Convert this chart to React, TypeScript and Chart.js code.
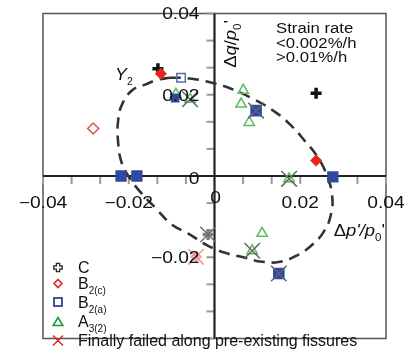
import React, { useEffect, useRef } from 'react';
import { Chart, registerables } from 'chart.js';

Chart.register(...registerables);

// Axis range and tick layout
const AXIS_MIN = -0.04;
const AXIS_MAX = 0.04;
const MINOR_STEP = 0.02 / 3;
const xTickLabels = [-0.04, -0.02, 0, 0.02, 0.04];
const yTickLabels = [0.04, 0.02, 0, -0.02];

// Dashed yield locus Y2 (closed loop, clockwise from the top)
const loopX = [
  -0.0104, -0.0057, -0.0001, 0.0043, 0.0095, 0.0141, 0.0176, 0.0211, 0.0241, 0.0262,
  0.0274, 0.0272, 0.0255, 0.0227, 0.0195, 0.0153, 0.0111, 0.0071, 0.0025, -0.0018,
  -0.0062, -0.0099, -0.0139, -0.0174, -0.0202, -0.0218, -0.0225, -0.0225, -0.0216,
  -0.0192, -0.0162, -0.0132, -0.0104,
];
const loopY = [
  0.0242, 0.0240, 0.0228, 0.0213, 0.0187, 0.0158, 0.0127, 0.0086, 0.0046, 0.0002,
  -0.0046, -0.0093, -0.0137, -0.0170, -0.0194, -0.0211, -0.0211, -0.0201, -0.0189, -0.0170,
  -0.0141, -0.0120, -0.0077, -0.0038, 0.0002, 0.0038, 0.0086, 0.0134, 0.0175,
  0.0211, 0.0225, 0.0237, 0.0242,
];

// Sample C
const cX = [-0.0132, 0.0237, -0.0015];
const cY = [0.0264, 0.0204, -0.0144];

// Sample B2(c)
const b2cX = [-0.0125, -0.0283, 0.0237, -0.0043];
const b2cY = [0.0252, 0.0117, 0.0038, -0.0199];

// Sample B2(a)
const b2aX = [-0.0078, -0.0092, 0.0097, -0.0218, -0.0181, 0.0276, 0.0150];
const b2aY = [0.0242, 0.0192, 0.0161, 0.0, 0.0, -0.0002, -0.0240];

// Sample A3(2)
const a32X = [-0.0090, -0.0057, 0.0067, 0.0062, 0.0081, 0.0174, 0.0111, 0.0088];
const a32Y = [0.0201, 0.0189, 0.0211, 0.0177, 0.0132, -0.0007, -0.0141, -0.0184];

// Specimens that finally failed along pre-existing fissures
const failX = [-0.0057, 0.0097, 0.0174, 0.0150, 0.0088, -0.0015, -0.0043];
const failY = [0.0189, 0.0161, -0.0007, -0.0240, -0.0184, -0.0144, -0.0199];

const strainRateLines = ['Strain rate', '<0.002%/h', '>0.01%/h'];

const FONT = '"Liberation Sans", Arial, Helvetica, sans-serif';

type Run = { t: string; italic?: boolean; sub?: boolean };

function drawRuns(
  ctx: CanvasRenderingContext2D,
  runs: Run[],
  x: number,
  yMid: number,
  size: number,
  align: 'left' | 'center' | 'right',
  sx = 1,
  color = '#111'
) {
  const subSize = Math.round(size * 0.6);
  const fontFor = (r: Run) => `${r.italic ? 'italic ' : ''}${r.sub ? subSize : size}px ${FONT}`;
  ctx.save();
  ctx.translate(x, yMid);
  ctx.scale(sx, 1);
  let w = 0;
  for (const r of runs) {
    ctx.font = fontFor(r);
    w += ctx.measureText(r.t).width;
  }
  let cx = align === 'left' ? 0 : align === 'right' ? -w : -w / 2;
  ctx.textAlign = 'left';
  ctx.textBaseline = 'alphabetic';
  ctx.fillStyle = color;
  const base = size * 0.36;
  for (const r of runs) {
    ctx.font = fontFor(r);
    ctx.fillText(r.t, cx, r.sub ? base + size * 0.3 : base);
    cx += ctx.measureText(r.t).width;
  }
  ctx.restore();
}

function fmtTick(v: number) {
  if (Math.abs(v) < 1e-12) return '0';
  return (v < 0 ? '\u2212' : '') + Math.abs(v).toFixed(2);
}

const axesPlugin = {
  id: 'centredAxes',
  beforeDatasetsDraw(chart: any) {
    const { ctx, chartArea: ca, scales } = chart;
    const xs = scales.x;
    const ys = scales.y;
    const x0 = xs.getPixelForValue(0);
    const y0 = ys.getPixelForValue(0);
    ctx.save();
    // frame
    ctx.strokeStyle = '#555';
    ctx.lineWidth = 1.5;
    ctx.strokeRect(ca.left, ca.top, ca.right - ca.left, ca.bottom - ca.top);
    // minor tick marks
    ctx.strokeStyle = '#9a9a9a';
    ctx.lineWidth = 2;
    for (let k = -6; k <= 6; k++) {
      if (k === 0) continue;
      const v = k * MINOR_STEP;
      const px = xs.getPixelForValue(v);
      ctx.beginPath();
      ctx.moveTo(px, y0);
      ctx.lineTo(px, y0 + 8);
      ctx.stroke();
      const py = ys.getPixelForValue(v);
      ctx.beginPath();
      ctx.moveTo(x0 - 8, py);
      ctx.lineTo(x0, py);
      ctx.stroke();
    }
    // axis lines through the origin
    ctx.strokeStyle = '#222';
    ctx.lineWidth = 2.2;
    ctx.beginPath();
    ctx.moveTo(ca.left, y0);
    ctx.lineTo(ca.right, y0);
    ctx.moveTo(x0, ca.top);
    ctx.lineTo(x0, ca.bottom);
    ctx.stroke();
    ctx.restore();
  },
  afterDatasetsDraw(chart: any) {
    const { ctx, chartArea: ca, scales } = chart;
    const xs = scales.x;
    const ys = scales.y;
    const x0 = xs.getPixelForValue(0);
    const y0 = ys.getPixelForValue(0);
    const SX = 1.2;

    // tick labels
    for (const v of xTickLabels) {
      if (v === 0) {
        drawRuns(ctx, [{ t: '0' }], x0 + 1, y0 + 21, 16, 'center', SX);
      } else {
        drawRuns(ctx, [{ t: fmtTick(v) }], xs.getPixelForValue(v), y0 + 26, 16, 'center', SX);
      }
    }
    for (const v of yTickLabels) {
      const py = v === 0 ? y0 + 2 : ys.getPixelForValue(v);
      drawRuns(ctx, [{ t: fmtTick(v) }], x0 - 15, py, 16, 'right', SX);
    }

    // axis titles
    ctx.save();
    ctx.translate(x0 + 16, ys.getPixelForValue(0.0325));
    ctx.rotate(-Math.PI / 2);
    drawRuns(
      ctx,
      [{ t: 'Δ' }, { t: 'q', italic: true }, { t: '/' }, { t: 'p', italic: true }, { t: '0', sub: true }, { t: "'" }],
      0,
      0,
      16,
      'center',
      1.15
    );
    ctx.restore();
    drawRuns(
      ctx,
      [
        { t: 'Δ' },
        { t: "p'", italic: true },
        { t: '/', italic: true },
        { t: 'p', italic: true },
        { t: '0', sub: true },
        { t: "'" },
      ],
      ca.right - 1,
      y0 + 54,
      16,
      'right',
      1.15
    );

    // locus label
    drawRuns(
      ctx,
      [{ t: 'Y', italic: true }, { t: '2', sub: true }],
      xs.getPixelForValue(-0.0232),
      ys.getPixelForValue(0.0251),
      17,
      'left',
      1.05
    );

    // strain-rate note
    strainRateLines.forEach((s, i) => {
      drawRuns(ctx, [{ t: s }], ca.left + 233, ca.top + 14 + i * 14.5, 15.5, 'left', 1.08);
    });

    // legend
    const lx = ca.left + 15;
    const tx = ca.left + 35;
    const rows = [ca.top + 254, ca.top + 270, ca.top + 288.5, ca.top + 307.5, ca.top + 327];
    ctx.save();
    ctx.lineWidth = 1.3;
    // C: outlined plus
    {
      const y = rows[0];
      const a = 4.2;
      const b = 1.6;
      ctx.beginPath();
      ctx.moveTo(lx - b, y - a);
      ctx.lineTo(lx + b, y - a);
      ctx.lineTo(lx + b, y - b);
      ctx.lineTo(lx + a, y - b);
      ctx.lineTo(lx + a, y + b);
      ctx.lineTo(lx + b, y + b);
      ctx.lineTo(lx + b, y + a);
      ctx.lineTo(lx - b, y + a);
      ctx.lineTo(lx - b, y + b);
      ctx.lineTo(lx - a, y + b);
      ctx.lineTo(lx - a, y - b);
      ctx.lineTo(lx - b, y - b);
      ctx.closePath();
      ctx.strokeStyle = '#222';
      ctx.stroke();
    }
    // B2(c): diamond
    {
      const y = rows[1];
      const r = 4;
      ctx.beginPath();
      ctx.moveTo(lx, y - r);
      ctx.lineTo(lx + r, y);
      ctx.lineTo(lx, y + r);
      ctx.lineTo(lx - r, y);
      ctx.closePath();
      ctx.strokeStyle = '#e0262a';
      ctx.lineWidth = 1.6;
      ctx.stroke();
    }
    // B2(a): square
    {
      const y = rows[2];
      ctx.strokeStyle = '#1f2a85';
      ctx.lineWidth = 1.6;
      ctx.strokeRect(lx - 4, y - 4, 8, 8);
    }
    // A3(2): triangle
    {
      const y = rows[3] + 1;
      ctx.beginPath();
      ctx.moveTo(lx, y - 4.5);
      ctx.lineTo(lx + 4.8, y + 3.5);
      ctx.lineTo(lx - 4.8, y + 3.5);
      ctx.closePath();
      ctx.strokeStyle = '#1e9a3c';
      ctx.lineWidth = 1.6;
      ctx.stroke();
    }
    // failure mark
    {
      const y = rows[4];
      const r = 5;
      ctx.beginPath();
      ctx.moveTo(lx - r, y - r);
      ctx.lineTo(lx + r, y + r);
      ctx.moveTo(lx + r, y - r);
      ctx.lineTo(lx - r, y + r);
      ctx.strokeStyle = '#e0262a';
      ctx.lineWidth = 1.5;
      ctx.stroke();
    }
    ctx.restore();
    drawRuns(ctx, [{ t: 'C' }], tx, rows[0], 16, 'left');
    drawRuns(ctx, [{ t: 'B' }, { t: '2(c)', sub: true }], tx, rows[1], 16, 'left');
    drawRuns(ctx, [{ t: 'B' }, { t: '2(a)', sub: true }], tx, rows[2], 16, 'left');
    drawRuns(ctx, [{ t: 'A' }, { t: '3(2)', sub: true }], tx, rows[3], 16, 'left');
    drawRuns(ctx, [{ t: 'Finally failed along pre-existing fissures' }], tx, rows[4], 16, 'left');
  },
};

const zip = (xs: number[], ys: number[]) => xs.map((x, i) => ({ x, y: ys[i] }));

export default function App() {
  const canvasRef = useRef<HTMLCanvasElement | null>(null);

  useEffect(() => {
    if (!canvasRef.current) return;
    const chart = new Chart(canvasRef.current, {
      type: 'scatter',
      data: {
        datasets: [
          {
            label: 'Finally failed along pre-existing fissures',
            data: zip(failX, failY),
            pointStyle: 'crossRot',
            pointRadius: 11,
            pointBorderWidth: 1.5,
            pointBorderColor: ['#5d6d5d', '#606070', '#5d6d5d', '#606070', '#5d6d5d', '#707070', '#e89a9a'],
            pointBackgroundColor: 'rgba(0,0,0,0)',
            order: 0,
          },
          {
            label: 'B2(c)',
            data: zip(b2cX, b2cY),
            pointStyle: 'rectRot',
            pointRadius: [5, 5.5, 5, 5],
            pointBorderWidth: 1.5,
            pointBorderColor: ['#e8261e', '#d9534f', '#e8261e', '#f0a0a0'],
            pointBackgroundColor: ['#e8261e', 'rgba(255,255,255,0)', '#e8261e', '#f4b6b6'],
            order: 1,
          },
          {
            label: 'C',
            data: zip(cX, cY),
            pointStyle: 'cross',
            pointRadius: 5.5,
            pointBorderWidth: 3.5,
            pointBorderColor: ['#111', '#111', '#808080'],
            order: 2,
          },
          {
            label: 'B2(a)',
            data: zip(b2aX, b2aY),
            pointStyle: 'rect',
            pointRadius: [6, 6.2, 8.2, 8, 8, 8, 8.2],
            pointBorderWidth: [1.5, 0, 0, 0, 0, 0, 0],
            pointBorderColor: ['#5a6cb0', '#2d4aa0', '#2d4aa0', '#2d4aa0', '#2d4aa0', '#2d4aa0', '#2d4aa0'],
            pointBackgroundColor: ['rgba(255,255,255,0)', '#2d4aa0', '#2d4aa0', '#2d4aa0', '#2d4aa0', '#2d4aa0', '#2d4aa0'],
            order: 3,
          },
          {
            label: 'A3(2)',
            data: zip(a32X, a32Y),
            pointStyle: 'triangle',
            pointRadius: 6,
            pointBorderWidth: 1.5,
            pointBorderColor: '#62b862',
            pointBackgroundColor: 'rgba(255,255,255,0)',
            order: 4,
          },
          {
            label: 'Y2',
            data: zip(loopX, loopY),
            showLine: true,
            tension: 0.45,
            borderColor: '#333',
            borderWidth: 2.6,
            borderDash: [11, 7],
            pointRadius: 0,
            order: 9,
          },
        ],
      },
      options: {
        responsive: false,
        animation: false,
        events: [],
        layout: { padding: { left: 43, right: 18, top: 13.5, bottom: 2.5 } },
        plugins: { legend: { display: false }, tooltip: { enabled: false } },
        scales: {
          x: { type: 'linear', min: AXIS_MIN, max: AXIS_MAX, display: false },
          y: { type: 'linear', min: AXIS_MIN, max: AXIS_MAX, display: false },
        },
      },
      plugins: [axesPlugin],
    } as any);
    return () => chart.destroy();
  }, []);

  return (
    <div style={{ position: 'absolute', left: 0, top: 0, width: 404, height: 351, background: '#fff' }}>
      <canvas ref={canvasRef} width={404} height={351} />
    </div>
  );
}
